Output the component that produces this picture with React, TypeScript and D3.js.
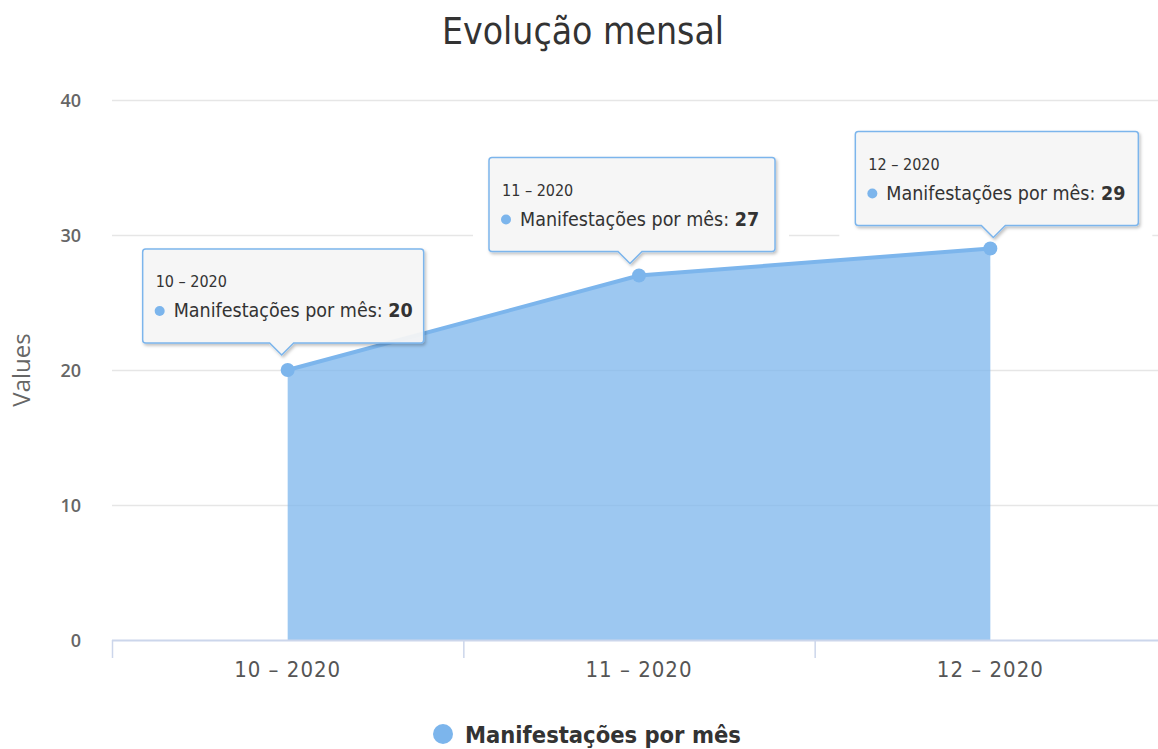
import React, { useEffect, useRef } from "react";
import * as d3 from "d3";

const categories = ["10 - 2020", "11 - 2020", "12 - 2020"];
const values = [20, 27, 29];
const yTicks = [0, 10, 20, 30, 40];
const seriesName = "Manifestações por mês";
const title = "Evolução mensal";
const yTitle = "Values";

// tooltip placement relative to each point (box left, box width, tip offset)
const tipLayout = [
  { left: -145, width: 281, tipDx: -6, tipDy: -15 },
  { left: -150, width: 286, tipDx: -9, tipDy: -12 },
  { left: -135, width: 283, tipDx: 3, tipDy: -11 },
];

const W = 1158;
const H = 749;
const COLOR = "#7cb5ec";
const NARROW = "'DejaVu Sans Condensed', 'Liberation Sans Narrow', 'Roboto Condensed', sans-serif";

const App = () => {
  const ref = useRef<SVGSVGElement>(null);

  useEffect(() => {
    const svg = d3.select(ref.current);
    svg.selectAll("*").remove();

    const x = d3.scaleBand().domain(categories).range([112, 1166]).padding(0);
    const y = d3.scaleLinear().domain([0, 40]).range([640, 100]);
    const cx = (c: string) => (x(c) as number) + x.bandwidth() / 2;

    const defs = svg.append("defs");
    const f = defs
      .append("filter")
      .attr("id", "shadow")
      .attr("x", "-10%")
      .attr("y", "-10%")
      .attr("width", "120%")
      .attr("height", "130%");
    f.append("feDropShadow")
      .attr("dx", 1.5)
      .attr("dy", 2)
      .attr("stdDeviation", 1.5)
      .attr("flood-color", "#000")
      .attr("flood-opacity", 0.25);

    // title
    svg
      .append("text")
      .attr("x", 583)
      .attr("y", 44)
      .attr("text-anchor", "middle")
      .style("font-family", NARROW)
      .style("font-size", "37px")
      .style("fill", "#333")
      .text(title);

    // grid
    svg
      .append("g")
      .selectAll("line")
      .data(yTicks.filter((t) => t > 0))
      .join("line")
      .attr("x1", 112)
      .attr("x2", W)
      .attr("y1", (d) => y(d) + 0.5)
      .attr("y2", (d) => y(d) + 0.5)
      .attr("stroke", "#e6e6e6")
      .attr("stroke-width", 1.5);

    const pts = categories.map((c, i) => ({ c, v: values[i] }));

    // white backing of tooltips (hides grid behind them)
    const back = svg.append("g");
    pts.forEach((d, i) => {
      const L = tipLayout[i];
      const px = cx(d.c);
      const py = y(d.v);
      const b = py + L.tipDy - 12;
      const t = b - 94;
      back
        .append("rect")
        .attr("x", px + L.left - 16)
        .attr("y", t)
        .attr("width", L.width + 30)
        .attr("height", 94 + 14)
        .attr("fill", "#fff");
    });

    // y labels
    svg
      .append("g")
      .selectAll("text")
      .data(yTicks)
      .join("text")
      .attr("x", 81)
      .attr("y", (d) => y(d) + 7)
      .attr("text-anchor", "end")
      .style("font-family", "'Open Sans', sans-serif")
      .style("font-weight", 600)
      .style("font-size", "18px")
      .style("fill", "#666")
      .text((d) => d);

    svg
      .append("text")
      .attr("transform", `translate(30, ${y(20)}) rotate(-90)`)
      .attr("text-anchor", "middle")
      .style("font-family", "'Open Sans', sans-serif")
      .style("font-size", "24px")
      .style("fill", "#666")
      .text(yTitle);

    // area + line
    const area = d3
      .area<{ c: string; v: number }>()
      .x((d) => cx(d.c))
      .y0(y(0))
      .y1((d) => y(d.v));
    const line = d3
      .line<{ c: string; v: number }>()
      .x((d) => cx(d.c))
      .y((d) => y(d.v));

    svg
      .append("path")
      .datum(pts)
      .attr("d", area)
      .attr("fill", COLOR)
      .attr("fill-opacity", 0.75);
    svg
      .append("path")
      .datum(pts)
      .attr("d", line)
      .attr("fill", "none")
      .attr("stroke", COLOR)
      .attr("stroke-width", 4);

    // x axis
    const ax = svg.append("g");
    ax.append("line")
      .attr("x1", 112)
      .attr("x2", W)
      .attr("y1", 640.5)
      .attr("y2", 640.5)
      .attr("stroke", "#ccd6eb")
      .attr("stroke-width", 2);
    ax.selectAll(".tick")
      .data(categories)
      .join("line")
      .attr("class", "tick")
      .attr("x1", (d) => (x(d) as number) + 0.5)
      .attr("x2", (d) => (x(d) as number) + 0.5)
      .attr("y1", 640)
      .attr("y2", 658)
      .attr("stroke", "#ccd6eb")
      .attr("stroke-width", 1.5);
    ax.selectAll(".lbl")
      .data(categories)
      .join("text")
      .attr("class", "lbl")
      .attr("x", (d) => cx(d))
      .attr("y", 677)
      .attr("text-anchor", "middle")
      .style("font-family", NARROW)
      .style("font-size", "22px")
      .style("letter-spacing", "1px")
      .style("fill", "#555")
      .text((d) => d.replace("-", "–"));

    // markers
    svg
      .append("g")
      .selectAll("circle")
      .data(pts)
      .join("circle")
      .attr("cx", (d) => cx(d.c))
      .attr("cy", (d) => y(d.v))
      .attr("r", 7)
      .attr("fill", COLOR);

    // tooltips
    const th = 94;
    const tg = svg.append("g");
    pts.forEach((d, i) => {
      const L = tipLayout[i];
      const px = cx(d.c);
      const py = y(d.v);
      const tipX = px + L.tipDx;
      const tipY = py + L.tipDy;
      const l = px + L.left;
      const r = l + L.width;
      const b = tipY - 12;
      const t = b - th;
      const rr = 3;
      const path = `M${l + rr},${t} H${r - rr} Q${r},${t} ${r},${t + rr} V${b - rr} Q${r},${b} ${r - rr},${b}
        H${tipX + 12} L${tipX},${tipY} L${tipX - 12},${b} H${l + rr} Q${l},${b} ${l},${b - rr} V${t + rr} Q${l},${t} ${l + rr},${t} Z`;
      const g = tg.append("g");
      g.append("path")
        .attr("d", path)
        .attr("fill", "rgba(247,247,247,0.92)")
        .attr("stroke", COLOR)
        .attr("stroke-width", 1.5)
        .attr("filter", "url(#shadow)");
      g.append("text")
        .attr("x", l + 13)
        .attr("y", t + 38)
        .style("font-family", NARROW)
        .style("font-size", "16px")
        .style("fill", "#333")
        .text(d.c.replace("-", "–"));
      g.append("circle")
        .attr("cx", l + 17)
        .attr("cy", t + 62)
        .attr("r", 5)
        .attr("fill", COLOR);
      const tx = g
        .append("text")
        .attr("x", l + 31)
        .attr("y", t + 68)
        .style("font-family", NARROW)
        .style("font-size", "19.5px")
        .style("fill", "#333");
      tx.append("tspan").text(`${seriesName}: `);
      tx.append("tspan").style("font-weight", "bold").text(d.v);
    });

    // legend
    svg
      .append("circle")
      .attr("cx", 443)
      .attr("cy", 734)
      .attr("r", 10)
      .attr("fill", COLOR);
    svg
      .append("text")
      .attr("x", 465)
      .attr("y", 743)
      .style("font-family", NARROW)
      .style("font-size", "23.5px")
      .style("font-weight", "bold")
      .style("fill", "#333")
      .text(seriesName);
  }, []);

  return (
    <svg
      ref={ref}
      width={W}
      height={H}
      style={{ position: "absolute", left: 0, top: 0, background: "#fff" }}
    ></svg>
  );
};

export default App;
